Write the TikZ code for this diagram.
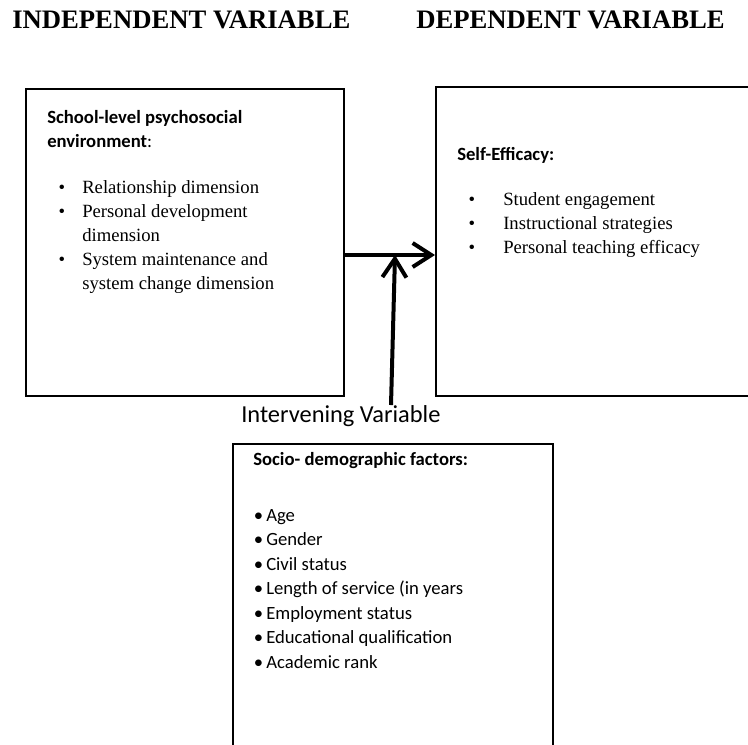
\documentclass[tikz,border=0pt]{standalone}
\usepackage{fontspec}
\setmainfont{Liberation Serif}
\newfontfamily\calibri{Carlito}
\usetikzlibrary{arrows.meta}

\begin{document}
\begin{tikzpicture}[x=0.75pt,y=-0.75pt,
  box/.style={draw, line width=1.8pt, anchor=north west, inner sep=0pt},
  txt/.style={anchor=base west, inner sep=0pt, font=\fontsize{14}{18}\selectfont},
  dot/.style={anchor=base, inner sep=0pt, font=\fontsize{14}{18}\selectfont},
  head/.style={anchor=base west, inner sep=0pt, font=\calibri\bfseries\fontsize{14}{18}\selectfont},
  item/.style={anchor=base west, inner sep=0pt, font=\calibri\fontsize{14}{18}\selectfont},
  title/.style={anchor=base west, inner sep=0pt, font=\bfseries\fontsize{20}{24}\selectfont},
  link/.style={line width=3pt, -{Straight Barb[length=14pt,width=18pt]}}]
  \useasboundingbox (0,0) rectangle (748,744);
  \clip (0,0) rectangle (748,744);

  % titles
  \node[title] (indtitle) at (12,28) {INDEPENDENT VARIABLE};
  \node[title] (deptitle) at (416,28) {DEPENDENT VARIABLE};

  % boxes
  \node[box, minimum width=238.5pt, minimum height=230.25pt] (indep) at (25,88) {};
  \node[box, minimum width=260pt, minimum height=231.75pt] (dep) at (435,86) {};
  \node[box, minimum width=240pt, minimum height=250pt] (inter) at (232,443) {};

  % independent variable
  \node[head] (indhead) at (47,123) {School-level psychosocial};
  \node[head] (indhead2) at (47,147) {environment\mdseries:};
  \foreach \y in {193,217,265}
    \node[dot] at (62,\y) {•};
  \foreach \t/\y in {Relationship dimension/193, Personal development/217,
      dimension/241, System maintenance and/265, system change dimension/289}
    \node[txt] at (82,\y) {\t};

  % dependent variable
  \node[head] (dephead) at (457,160) {Self-Efficacy:};
  \foreach \t/\y in {Student engagement/205, Instructional strategies/229,
      Personal teaching efficacy/253} {
    \node[dot] at (472,\y) {•};
    \node[txt] at (503,\y) {\t};
  }

  % intervening variable
  \node[anchor=base west, inner sep=0pt, font=\calibri\fontsize{18.3}{22}\selectfont]
    (label) at (241,422) {Intervening Variable};
  \node[head] (interhead) at (253,465) {Socio- demographic factors:};
  \foreach \t [count=\i from 0] in {Age, Gender, Civil status,
      Length of service (in years, Employment status,
      Educational qualification, Academic rank} {
    \node[item, anchor=base] at (258.5,521+24.5*\i) {•};
    \node[item] at (266,521+24.5*\i) {\t};
  }

  % arrows
  \coordinate (meet) at (395,255);
  \coordinate (foot) at (391,405);
  \draw[link] (indep.east |- meet) -- (dep.west |- meet);
  \draw[link] (foot) -- (meet);
\end{tikzpicture}
\end{document}
